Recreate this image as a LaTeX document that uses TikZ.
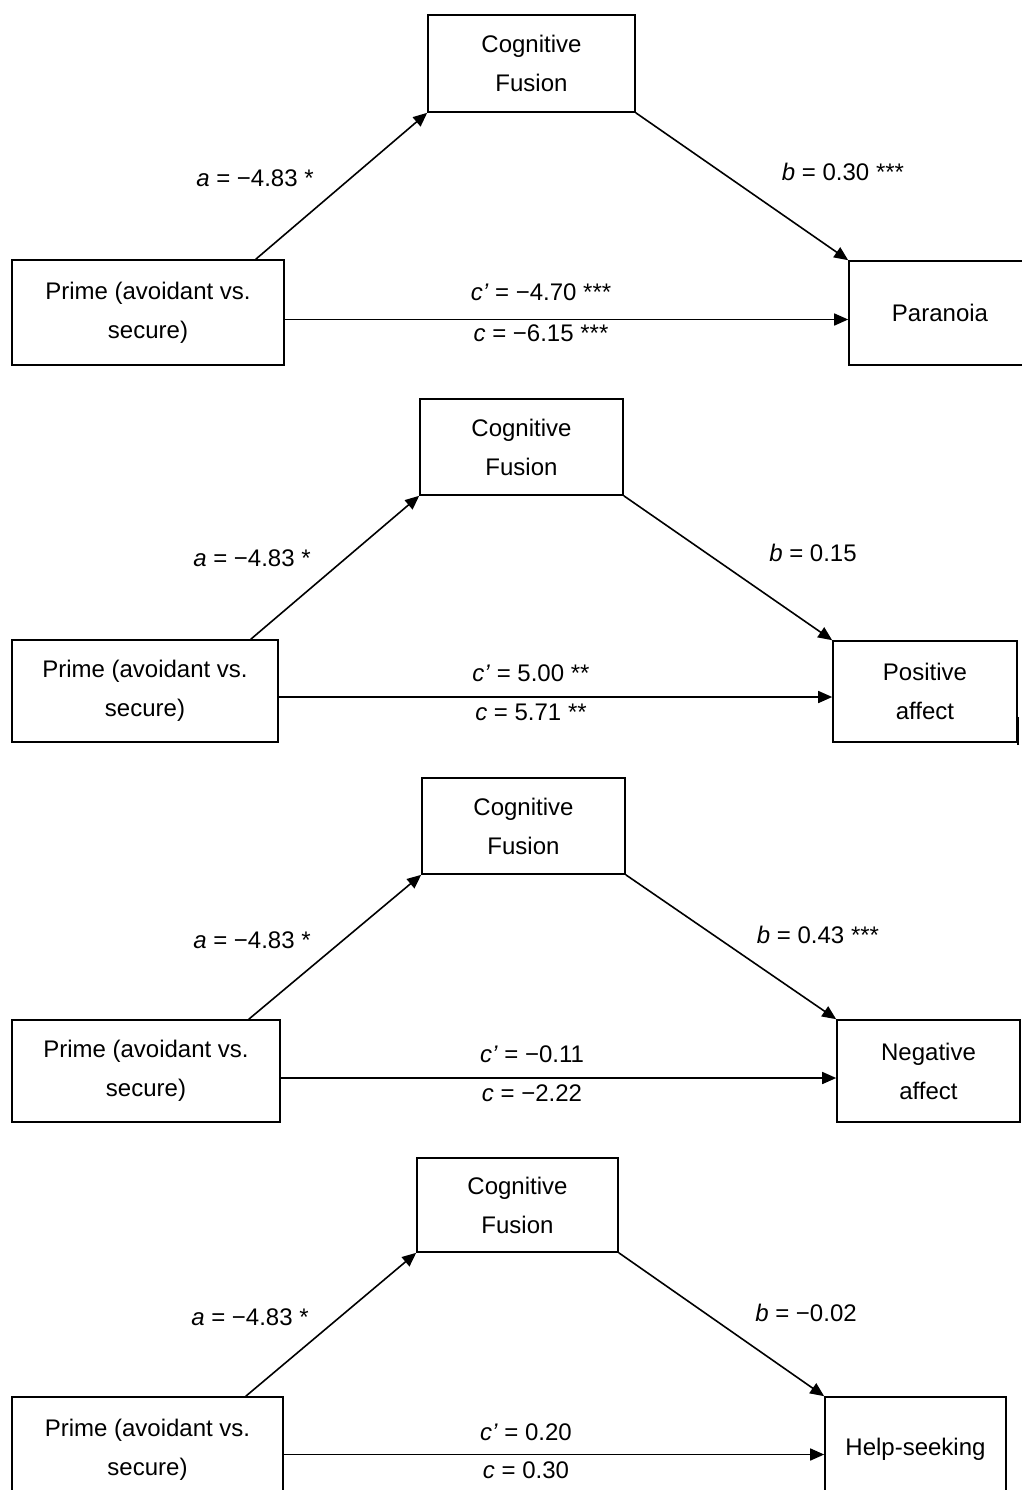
\documentclass[tikz,border=0pt]{standalone}
\usepackage{fontspec}
\setmainfont{Liberation Sans}
\usetikzlibrary{arrows.meta}

\begin{document}
\begin{tikzpicture}[x=0.5pt,y=-0.5pt,
		box/.style={draw,line width=0.8pt,align=center,inner sep=0pt,
			font=\fontsize{12}{19.5}\selectfont},
		lbl/.style={font=\fontsize{12}{14}\selectfont,inner sep=1pt},
		link/.style={line width=0.8pt,-{Triangle[length=7pt,width=6pt]}}]
		\useasboundingbox (0,0) rectangle (1022,1490);
		
		% panel 1: paranoia
		\node[box,minimum width=103.5pt,minimum height=48.5pt] (cf1) at (531.5,63.5) {Cognitive\\Fusion};
		\node[box,minimum width=136pt,minimum height=52.5pt] (pr1) at (148,312.5) {Prime (avoidant vs.\\secure)};
		\node[box,minimum width=91pt,minimum height=52pt] (out1) at (940,313) {Paranoia};
		
		\draw[link] ([xshift=-14.5pt]pr1.north east) -- (cf1.south west);
		\draw[link] (cf1.south east) -- (out1.north west);
		\draw[link] ([yshift=-3.5pt]pr1.east) -- ([yshift=-3.5pt]pr1.east -| out1.west);
		
		\node[lbl] (la1) at (255,178) {\textit{a} = −4.83 *};
		\node[lbl] (lb1) at (843,172) {\textit{b} = 0.30 ***};
		\node[lbl] (lcp1) at (541,292) {\textit{c'} = −4.70 ***};
		\node[lbl] (lc1) at (541,333) {\textit{c} = −6.15 ***};
		
		% panel 2: positive affect
		\node[box,minimum width=101.5pt,minimum height=48pt] (cf2) at (521.5,447) {Cognitive\\Fusion};
		\node[box,minimum width=133pt,minimum height=51pt] (pr2) at (145,691) {Prime (avoidant vs.\\secure)};
		\node[box,minimum width=92pt,minimum height=50.5pt] (out2) at (925,691.5) {Positive\\affect};
		
		\draw[link] ([xshift=-14pt]pr2.north east) -- (cf2.south west);
		\draw[link] (cf2.south east) -- (out2.north west);
		\draw[link] ([yshift=-3pt]pr2.east) -- ([yshift=-3pt]pr2.east -| out2.west);
		\draw[line width=0.8pt] (1018,717) -- (1018,745);
		
		\node[lbl] (la2) at (252,558) {\textit{a} = −4.83 *};
		\node[lbl] (lb2) at (813,553) {\textit{b} = 0.15};
		\node[lbl] (lcp2) at (531,673) {\textit{c'} = 5.00 **};
		\node[lbl] (lc2) at (531,712) {\textit{c} = 5.71 **};
		
		% panel 3: negative affect
		\node[box,minimum width=101.5pt,minimum height=48pt] (cf3) at (523.5,826) {Cognitive\\Fusion};
		\node[box,minimum width=134pt,minimum height=51pt] (pr3) at (146,1071) {Prime (avoidant vs.\\secure)};
		\node[box,minimum width=91.5pt,minimum height=51pt] (out3) at (928.5,1071) {Negative\\affect};
		
		\draw[link] ([xshift=-16pt]pr3.north east) -- (cf3.south west);
		\draw[link] (cf3.south east) -- (out3.north west);
		\draw[link] ([yshift=-3.5pt]pr3.east) -- ([yshift=-3.5pt]pr3.east -| out3.west);
		
		\node[lbl] (la3) at (252,940) {\textit{a} = −4.83 *};
		\node[lbl] (lb3) at (818,935) {\textit{b} = 0.43 ***};
		\node[lbl] (lcp3) at (532,1054) {\textit{c'} = −0.11};
		\node[lbl] (lc3) at (532,1093) {\textit{c} = −2.22};
		
		% panel 4: help-seeking
		\node[box,minimum width=100.5pt,minimum height=47pt] (cf4) at (517.5,1205) {Cognitive\\Fusion};
		\node[box,minimum width=135.5pt,minimum height=52.5pt] (pr4) at (147.5,1449.5) {Prime (avoidant vs.\\secure)};
		\node[box,minimum width=90.5pt,minimum height=52.5pt] (out4) at (915.5,1449.5) {Help-seeking};
		
		\draw[link] ([xshift=-19pt]pr4.north east) -- (cf4.south west);
		\draw[link] (cf4.south east) -- (out4.north west);
		\draw[link] ([yshift=-2.5pt]pr4.east) -- ([yshift=-2.5pt]pr4.east -| out4.west);
		
		\node[lbl] (la4) at (250,1317) {\textit{a} = −4.83 *};
		\node[lbl] (lb4) at (806,1313) {\textit{b} = −0.02};
		\node[lbl] (lcp4) at (526,1432) {\textit{c'} = 0.20};
		\node[lbl] (lc4) at (526,1470) {\textit{c} = 0.30};
	\end{tikzpicture}
\end{document}
